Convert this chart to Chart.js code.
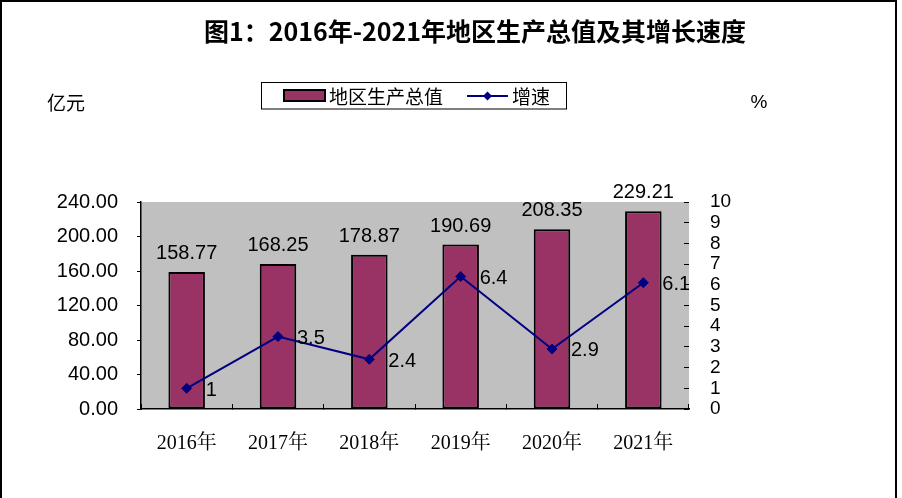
<!DOCTYPE html>
<html>
<head>
<meta charset="utf-8">
<script src="https://cdn.jsdelivr.net/npm/chart.js@4.4.1/dist/chart.umd.min.js"></script>
<style>
  html, body { margin: 0; padding: 0; background: #fff; }
  #wrap { position: relative; width: 902px; height: 498px; overflow: hidden; }
  #frame { position: absolute; left: 0; top: 0; width: 897px; height: 520px;
           box-sizing: border-box; border: 2px solid #000; pointer-events: none; }
</style>
</head>
<body>
<div id="wrap">
  <canvas id="gdpChart" width="902" height="498"></canvas>
  <div id="frame"></div>
</div>
<script>
// -----------------data-----------------
const years = ["2016年", "2017年", "2018年", "2019年", "2020年", "2021年"];
const gdpValues = [158.77, 168.25, 178.87, 190.69, 208.35, 229.21]; // 亿元
const growthRates = [1, 3.5, 2.4, 6.4, 2.9, 6.1]; // %
const leftAxisTicks = { min: 0, max: 240, step: 40 };
const rightAxisTicks = { min: 0, max: 10, step: 1 };

const titleText = "图1：2016年-2021年地区生产总值及其增长速度";
const barLabel = "地区生产总值";
const lineLabel = "增速";

const barColor = "#993366";
const lineColor = "#000080";
const sansFont = "'Liberation Sans', Arial, sans-serif";
const cjkFont = "'Noto Sans CJK SC', sans-serif";
const serifFont = "'Liberation Serif', 'Noto Serif CJK SC', 'Noto Sans CJK SC', serif";

// -----------------plugins-----------------
// gray plot background
const plotBackground = {
  id: "plotBackground",
  beforeDraw(chart) {
    const { ctx, chartArea } = chart;
    ctx.save();
    ctx.fillStyle = "#c0c0c0";
    ctx.fillRect(chartArea.left, chartArea.top, chartArea.width, chartArea.height);
    ctx.restore();
  },
};

// value labels above bars and beside points
const valueLabels = {
  id: "valueLabels",
  afterDatasetsDraw(chart) {
    const { ctx, chartArea } = chart;
    ctx.save();
    ctx.fillStyle = "#000";
    ctx.font = "20px " + sansFont;

    const bars = chart.getDatasetMeta(0).data;
    ctx.textAlign = "center";
    ctx.textBaseline = "alphabetic";
    bars.forEach((el, i) => {
      ctx.fillText(gdpValues[i].toFixed(2), el.x, el.y - 13);
    });

    // line labels get cut at the plot edge, like the original
    ctx.beginPath();
    ctx.rect(chartArea.left, chartArea.top, chartArea.width, chartArea.height);
    ctx.clip();
    const points = chart.getDatasetMeta(1).data;
    ctx.textAlign = "left";
    ctx.textBaseline = "middle";
    points.forEach((el, i) => {
      ctx.fillText(String(growthRates[i]), el.x + 19, el.y + 2);
    });
    ctx.restore();
  },
};

// boxed legend + unit captions
const boxedLegend = {
  id: "boxedLegend",
  afterDraw(chart) {
    const { ctx, chartArea } = chart;
    const cx = (chartArea.left + chartArea.right) / 2;
    const barDs = chart.data.datasets[0];
    const lineDs = chart.data.datasets[1];
    ctx.save();

    ctx.strokeStyle = "#000";
    ctx.lineWidth = 1;
    ctx.strokeRect(cx - 153.5, 82.5, 305, 26.5);

    // bar swatch
    ctx.fillStyle = barDs.backgroundColor;
    ctx.fillRect(cx - 131, 90, 41, 11);
    ctx.lineWidth = 2;
    ctx.strokeRect(cx - 131, 90, 41, 11);

    ctx.fillStyle = "#000";
    ctx.font = "19px " + cjkFont;
    ctx.textAlign = "left";
    ctx.textBaseline = "middle";
    ctx.fillText(barDs.label, cx - 86, 96.5);

    // line swatch with diamond
    ctx.strokeStyle = lineDs.borderColor;
    ctx.lineWidth = 2;
    ctx.beginPath();
    ctx.moveTo(cx + 52, 96);
    ctx.lineTo(cx + 93, 96);
    ctx.stroke();
    const dx = cx + 72.5, r = 4.5;
    ctx.fillStyle = lineDs.borderColor;
    ctx.beginPath();
    ctx.moveTo(dx, 96 - r);
    ctx.lineTo(dx + r, 96);
    ctx.lineTo(dx, 96 + r);
    ctx.lineTo(dx - r, 96);
    ctx.closePath();
    ctx.fill();

    ctx.fillStyle = "#000";
    ctx.fillText(lineDs.label, cx + 97, 96.5);

    // units
    ctx.textAlign = "center";
    ctx.font = "19px " + cjkFont;
    ctx.fillText("亿元", 66, 103);
    ctx.font = "19px " + sansFont;
    ctx.fillText("%", 759, 103);
    ctx.restore();
  },
};

// -----------------chart-----------------
const ctx = document.getElementById("gdpChart").getContext("2d");
const chart = new Chart(ctx, {
  data: {
    labels: years,
    datasets: [
      {
        type: "bar",
        label: barLabel,
        data: gdpValues,
        yAxisID: "y",
        backgroundColor: barColor,
        borderColor: "#000",
        borderWidth: 2,
        borderSkipped: false,
        categoryPercentage: 1,
        barPercentage: 0.4,
        order: 1,
      },
      {
        type: "line",
        label: lineLabel,
        data: growthRates,
        yAxisID: "y1",
        borderColor: lineColor,
        backgroundColor: lineColor,
        borderWidth: 2,
        tension: 0,
        pointStyle: "rectRot",
        pointRadius: 5,
        pointBorderWidth: 1,
        pointBackgroundColor: lineColor,
        pointBorderColor: lineColor,
        order: 0,
      },
    ],
  },
  options: {
    responsive: false,
    animation: false,
    layout: { padding: { left: 48, right: 0, top: 0, bottom: 0 } },
    scales: {
      x: {
        offset: true,
        grid: { drawOnChartArea: false, drawTicks: true, tickLength: -5, color: "#000", offset: true },
        border: { display: true, color: "#000", width: 1.5 },
        ticks: { color: "#000", font: { family: serifFont, size: 20 }, padding: 28, maxRotation: 0 },
        afterFit: (s) => { s.height = 89; },
      },
      y: {
        position: "left",
        min: leftAxisTicks.min,
        max: leftAxisTicks.max,
        grid: { drawOnChartArea: false, drawTicks: true, tickLength: 4, color: "#000" },
        border: { display: true, color: "#000", width: 1.5 },
        ticks: {
          stepSize: leftAxisTicks.step,
          color: "#000",
          font: { family: sansFont, size: 20 },
          padding: 19,
          autoSkip: false,
          callback: (v) => Number(v).toFixed(2),
        },
        afterFit: (s) => { s.width = 93; },
      },
      y1: {
        position: "right",
        min: rightAxisTicks.min,
        max: rightAxisTicks.max,
        grid: { drawOnChartArea: false, drawTicks: true, tickLength: -5, color: "#000" },
        border: { display: false },
        ticks: {
          stepSize: rightAxisTicks.step,
          color: "#000",
          font: { family: sansFont, size: 19 },
          padding: 26,
          autoSkip: false,
        },
        afterFit: (s) => { s.width = 213; },
      },
    },
    plugins: {
      legend: { display: false },
      tooltip: { enabled: false },
      title: {
        display: true,
        text: titleText,
        color: "#000",
        font: { family: cjkFont, size: 25, weight: "bold" },
        padding: { top: 16, bottom: 156 },
      },
    },
  },
  plugins: [plotBackground, valueLabels, boxedLegend],
});
</script>
</body>
</html>
